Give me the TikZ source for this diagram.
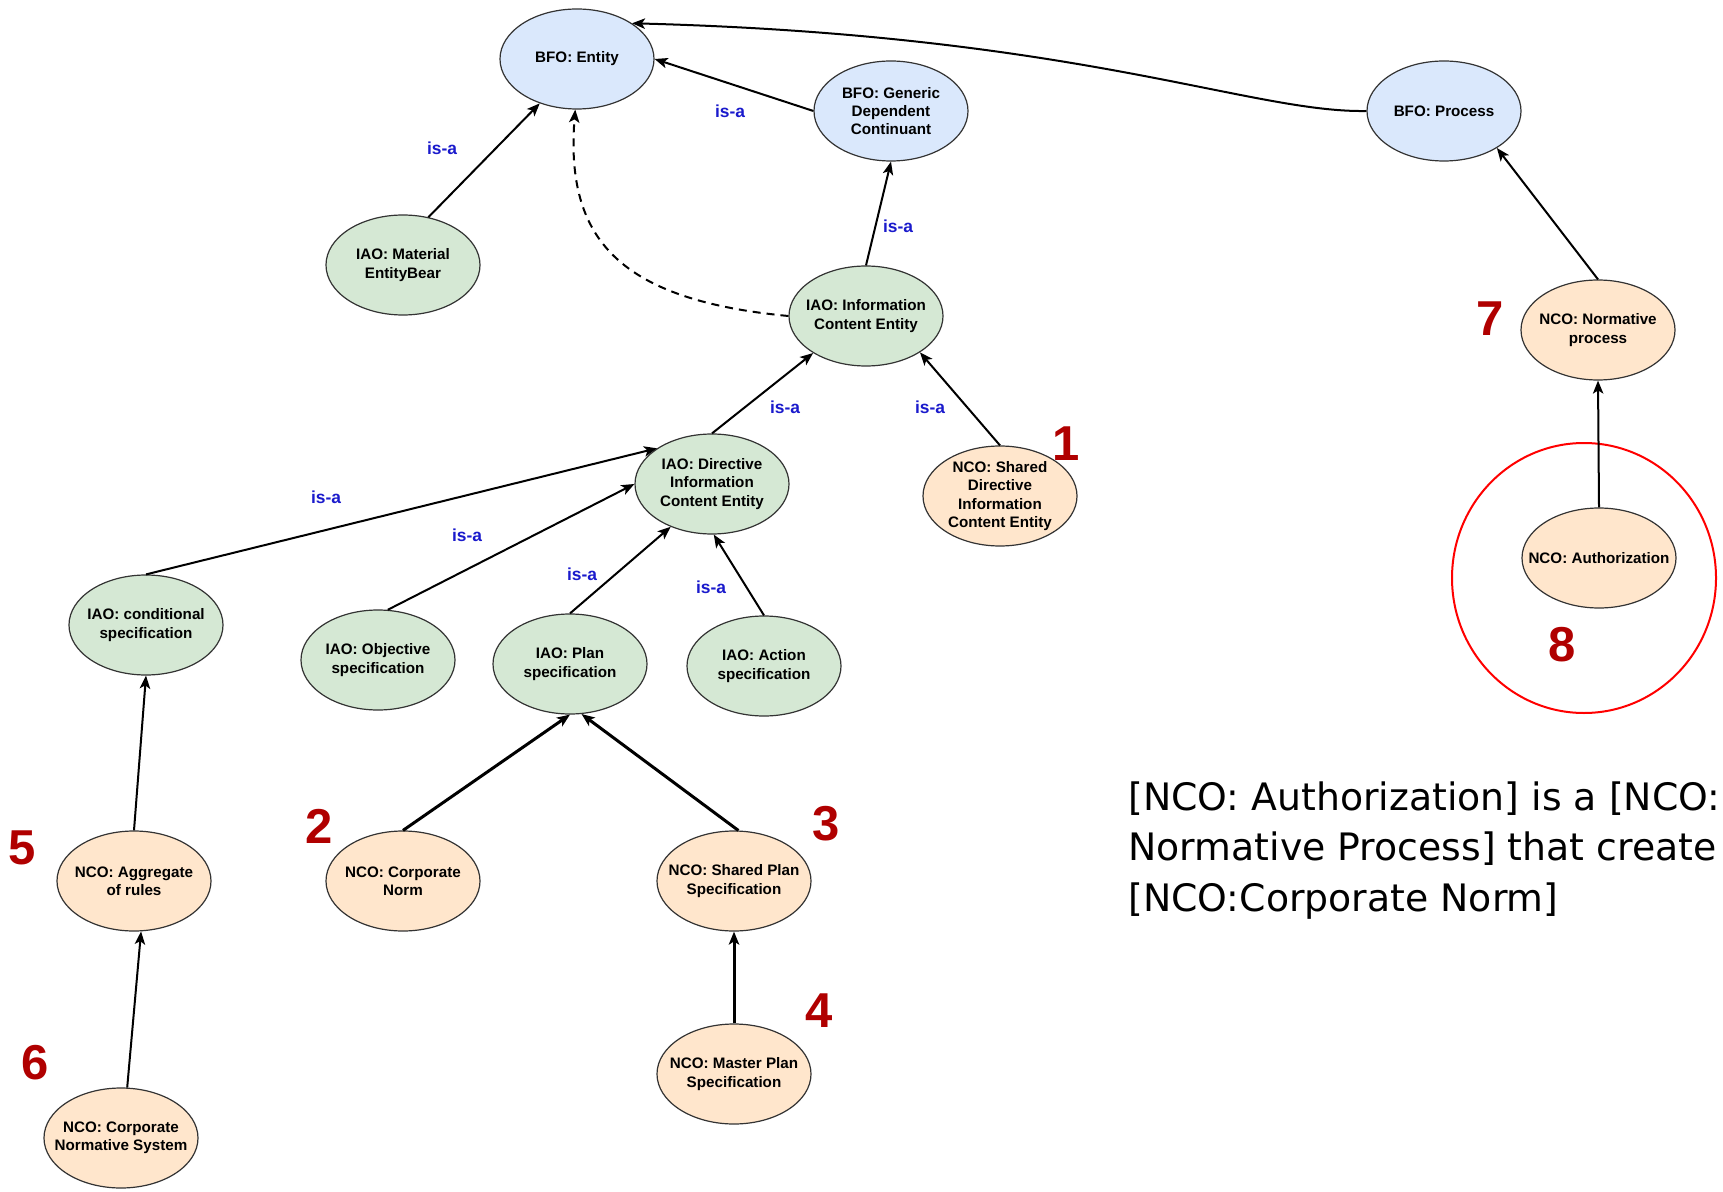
\documentclass[tikz,border=0pt]{standalone}
\usepackage{fontspec}
\setmainfont{Liberation Sans}
\newfontfamily\notefont{DejaVu Sans}
\usetikzlibrary{shapes.geometric, arrows.meta}

\definecolor{bfofill}{HTML}{DAE8FC}
\definecolor{iaofill}{HTML}{D5E8D4}
\definecolor{ncofill}{HTML}{FFE6CC}
\definecolor{rimgray}{HTML}{333333}
\definecolor{isablue}{HTML}{1A1ACC}
\definecolor{numred}{HTML}{B00000}

\begin{document}
\begin{tikzpicture}[x=0.5pt, y=-0.5pt,
  term/.style={font=\bfseries\fontsize{7.6}{9.15}\selectfont, align=center, inner sep=0pt, text=black},
  concept/.style={ellipse, draw=rimgray, line width=0.6pt, minimum width=77pt, minimum height=50pt, inner sep=0pt},
  bfo/.style={concept, fill=bfofill, label={[term]center:{#1}}},
  iao/.style={concept, fill=iaofill, label={[term]center:{#1}}},
  nco/.style={concept, fill=ncofill, label={[term]center:{#1}}},
  isa/.style={font=\bfseries\fontsize{8.7}{10}\selectfont, text=isablue, inner sep=0pt},
  tag/.style={font=\bfseries\fontsize{24.5}{26}\selectfont, text=numred, inner sep=0pt},
  rel/.style={-{Stealth[length=6.5pt, width=5.2pt, inset=1.6pt]}, line width=1pt},
  strong/.style={rel, line width=1.5pt},
  note/.style={font=\notefont\fontsize{18.9}{25.35}\selectfont, anchor=base west, inner sep=0pt},
  focus/.style={ellipse, draw=red, line width=1pt, minimum width=132pt, minimum height=135pt, inner sep=0pt},
]
\useasboundingbox (0,0) rectangle (1723,1192);
\clip (0,0) rectangle (1723,1192);
\fill[white] (0,0) rectangle (1723,1192);

% BFO layer
\node[bfo={BFO: Entity}] (ent) at (577,59) {};
\node[bfo={BFO: Generic\\Dependent\\Continuant}] (gdc) at (891,111) {};
\node[bfo={BFO: Process}] (proc) at (1444,111) {};

% IAO layer
\node[iao={IAO: Material\\EntityBear}] (mat) at (403,265) {};
\node[iao={IAO: Information\\Content Entity}] (ice) at (866,316) {};
\node[iao={IAO: Directive\\Information\\Content Entity}] (dice) at (712,484) {};
\node[iao={IAO: conditional\\specification}] (cond) at (146,625) {};
\node[iao={IAO: Objective\\specification}] (obj) at (378,660) {};
\node[iao={IAO: Plan\\specification}] (plan) at (570,664) {};
\node[iao={IAO: Action\\specification}] (act) at (764,666) {};

% NCO layer
\node[nco={NCO: Shared\\Directive\\Information\\Content Entity}] (sdice) at (1000,496) {};
\node[nco={NCO: Aggregate\\of rules}] (agg) at (134,881) {};
\node[nco={NCO: Corporate\\Norm}] (cn) at (403,881) {};
\node[nco={NCO: Shared Plan\\Specification}] (spl) at (734,881) {};
\node[nco={NCO: Master Plan\\Specification}] (mpl) at (734,1074) {};
\node[nco={NCO: Corporate\\Normative System}] (cns) at (121,1138) {};
\node[nco={NCO: Normative\\process}] (np) at (1598,330) {};
\node[nco={NCO: Authorization}] (auth) at (1599,558) {};

% highlight ring
\node[focus] (ring) at (1584,578) {};

% subclass links
\draw[rel] (mat.62) -- (ent.230);
\draw[rel] (gdc.west) -- (ent.east);
\draw[rel] (proc.west) .. controls (1250,113) and (1080,35) .. (ent.33);
\draw[rel] (ice.north) -- (gdc.south);
\draw[rel, dash pattern=on 4pt off 3pt] (ice.west) .. controls (620,300) and (565,240) .. (ent.268);
\draw[rel] (dice.north) -- (ice.215);
\draw[rel] (sdice.north) -- (ice.326);
\draw[rel] (cond.north) -- (dice.147);
\draw[rel] (obj.79) -- (dice.west);
\draw[rel] (plan.north) -- (dice.226);
\draw[rel] (act.north) -- (dice.272);
\draw[rel] (agg.north) -- (cond.south);
\draw[rel] (cns.83) -- (agg.278);
\draw[strong] (cn.north) -- (plan.south);
\draw[strong] (spl.85) -- (plan.283);
\draw[strong] (mpl.north) -- (spl.south);
\draw[rel] (np.north) -- (proc.325);
\draw[rel] (auth.north) -- (np.south);

% relation labels
\node[isa] (isa1) at (442,148) {is-a};
\node[isa] (isa2) at (730,111) {is-a};
\node[isa] (isa3) at (898,226) {is-a};
\node[isa] (isa4) at (785,407) {is-a};
\node[isa] (isa5) at (930,407) {is-a};
\node[isa] (isa6) at (326,497) {is-a};
\node[isa] (isa7) at (467,535) {is-a};
\node[isa] (isa8) at (582,574) {is-a};
\node[isa] (isa9) at (711,587) {is-a};

% step numbers
\node[tag] (n1) at (1066,444) {1};
\node[tag] (n2) at (319,826) {2};
\node[tag] (n3) at (826,824) {3};
\node[tag] (n4) at (819,1011) {4};
\node[tag] (n5) at (22,848) {5};
\node[tag] (n6) at (35,1063) {6};
\node[tag] (n7) at (1490,319) {7};
\node[tag] (n8) at (1562,645) {8};

% explanatory note
\node[note] (t1) at (1128,810) {[NCO: Authorization] is a [NCO:};
\node[note] (t2) at (1128,860) {Normative Process] that create};
\node[note] (t3) at (1128,911) {[NCO:Corporate Norm]};
\end{tikzpicture}
\end{document}
